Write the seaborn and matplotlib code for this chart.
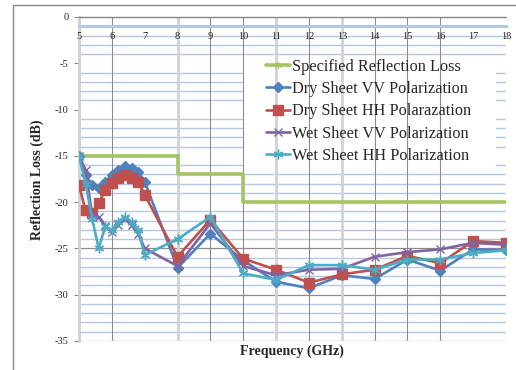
import matplotlib
matplotlib.use("Agg")
import matplotlib.pyplot as plt
import seaborn as sns
import pandas as pd
from matplotlib.patches import Rectangle

# Measured frequencies (GHz)
freq = [5.0, 5.2, 5.4, 5.6, 5.8, 6.0, 6.2, 6.4, 6.6, 6.8, 7.0,
        8, 9, 10, 11, 12, 13, 14, 15, 16, 17, 18]

dry_vv = [-15.0, -17.1, -18.1, -18.5, -17.8, -17.1, -16.5, -16.1, -16.3, -16.7, -17.8,
          -27.1, -23.4, -26.3, -28.6, -29.3, -27.9, -28.3, -26.2, -27.4, -25.1, -25.2]
dry_hh = [-18.2, -20.9, -21.2, -20.1, -18.7, -17.9, -17.4, -17.1, -17.4, -17.8, -19.2,
          -25.9, -21.9, -26.1, -27.3, -28.7, -27.8, -27.3, -25.8, -26.6, -24.2, -24.4]
wet_vv = [-15.0, -16.5, -21.4, -21.6, -22.6, -23.2, -22.5, -21.8, -22.5, -23.4, -25.0,
          -26.9, -22.3, -26.9, -27.9, -27.3, -27.2, -25.9, -25.4, -25.1, -24.4, -24.6]
wet_hh = [-15.0, -18.0, -21.8, -25.0, -22.6, -23.0, -22.1, -21.6, -22.1, -23.0, -25.7,
          -24.0, -21.6, -27.7, -28.4, -26.8, -26.8, -27.3, -26.2, -26.2, -25.5, -25.2]

# Specification limit (step function)
spec_freq = [5, 8, 8, 10, 10, 18]
spec_loss = [-15, -15, -17, -17, -20, -20]

labels = ["Specified Reflection Loss", "Dry Sheet VV Polarization",
          "Dry Sheet HH Polarazation", "Wet Sheet VV Polarization",
          "Wet Sheet HH Polarization"]
colors = ["#9BBB59", "#4F81BD", "#C0504D", "#8064A2", "#4BACC6"]

x_ticks = list(range(5, 19))
y_ticks = list(range(0, -36, -5))

sns.set_style("white")
plt.rcParams["font.family"] = ["Liberation Serif", "DejaVu Serif"]
plt.rcParams["axes.unicode_minus"] = False

fig = plt.figure(figsize=(5.16, 3.70), dpi=100)
W, H = 516, 370
ax = fig.add_axes([79 / W, 1 - 341 / H, (506 - 79) / W, (341 - 17) / H])

# outer chart border
fig.patches.append(Rectangle((13 / W, -0.1), 1.2, 1 - 5 / H + 0.1,
                             transform=fig.transFigure, fill=False,
                             edgecolor="#8A8A8A", lw=1.0))

ax.set_xlim(5, 18)
ax.set_ylim(-35, 0)

# horizontal minor grid (light blue) and major grid (gray)
for v in range(-1, -35, -1):
    if v % 5 == 0:
        continue
    ax.axhline(v, color="#B3C8E4", lw=2.2 if v == -1 else 1.0, zorder=1)
for v in [-25, -30, -35]:
    ax.axhline(v, color="#8C8C8C", lw=0.9, zorder=1.2)

# white area behind the legend
ax.add_patch(Rectangle((10.0, -16.3), 7.7, 11.8, facecolor="white",
                       edgecolor="none", zorder=2))

# vertical grid
for v in [5, 8, 11, 13]:
    ax.axvline(v, color="#D2D2D2", lw=2.0, zorder=2.2)
for v in [6, 9, 10, 12, 14, 15, 16]:
    ax.axvline(v, color="#8C8C8C", lw=0.8, zorder=2.2)

# series
sns.lineplot(x=spec_freq, y=spec_loss, ax=ax, color="#A4C363", lw=2.6,
             estimator=None, sort=False, label=labels[0], zorder=3,
             marker=(6, 2, 0), markersize=5, markeredgecolor="#A4C363",
             markevery=[0])
series = [
    (dry_vv, "D", 5.5),
    (dry_hh, "s", 7.5),
    (wet_vv, "x", 6),
    (wet_hh, (6, 2, 0), 7),
]
for i, (vals, mk, ms) in enumerate(series, start=1):
    sns.lineplot(x=freq, y=vals, ax=ax, color=colors[i], lw=1.9,
                 estimator=None, sort=False, label=labels[i], zorder=3 + i,
                 marker=mk, markersize=ms, markeredgecolor=colors[i],
                 markerfacecolor=colors[i], markeredgewidth=1.0)

# axes styling
ax.spines["right"].set_visible(False)
ax.spines["top"].set_color("#868686")
ax.spines["top"].set_linewidth(1.0)
ax.spines["left"].set_color("#D2D2D2")
ax.spines["left"].set_linewidth(2.0)
ax.spines["bottom"].set_position(("data", -1))
ax.spines["bottom"].set_color("#B3C8E4")
ax.spines["bottom"].set_linewidth(2.2)

ax.set_xticks(x_ticks)
ax.set_xticklabels([str(t) for t in x_ticks])
ax.set_yticks(y_ticks)
ax.set_yticklabels([str(t) for t in y_ticks])
ax.tick_params(axis="x", length=0, pad=4, labelsize=7.5, colors="#222222")
ax.tick_params(axis="y", length=3.5, width=0.8, color="#868686", pad=4,
               labelsize=7.5, labelcolor="#222222", left=True)
ax.xaxis.set_zorder(7)

ax.set_xlabel("")
ax.set_ylabel("")
fig.text(292 / W, 1 - 351 / H, "Frequency (GHz)", ha="center", va="center",
         fontsize=10, fontweight="bold")
fig.text(37 / W, 1 - 180 / H, "Reflection Loss (dB)", ha="center", va="center",
         rotation=90, fontsize=10, fontweight="bold")

leg = ax.legend(loc="upper left", bbox_to_anchor=((266 - 79) / 427, (341 - 59) / 324),
                frameon=False, fontsize=11.7, borderpad=0, borderaxespad=0,
                handlelength=1.5, handletextpad=0.12, labelspacing=0.38)
leg.set_zorder(6)

fig.savefig("out.png", dpi=100)
